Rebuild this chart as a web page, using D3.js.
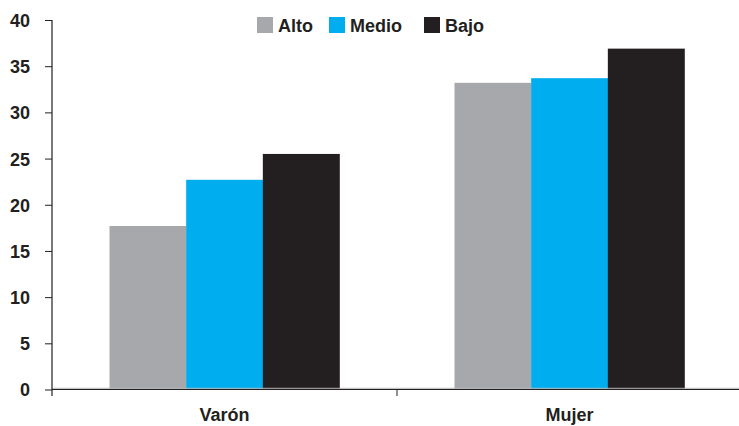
<!DOCTYPE html>
<html><head><meta charset="utf-8">
<script src="https://cdn.jsdelivr.net/npm/d3@7/dist/d3.min.js"></script>
<style>body{margin:0;background:#fff}svg{display:block}</style>
</head><body>
<svg id="c" width="739" height="426"></svg>
<script>
const categories = ["Varón", "Mujer"];
const seriesNames = ["Alto", "Medio", "Bajo"];
const alto = [17.7, 33.2];
const medio = [22.7, 33.7];
const bajo = [25.5, 36.9];
const yTicks = [0, 5, 10, 15, 20, 25, 30, 35, 40];
const colors = ["#a7a8ab", "#00aeef", "#231f20"];

const seriesValues = [alto, medio, bajo];
const svg = d3.select("#c");
const font = "'Liberation Sans', Arial, Helvetica, sans-serif";

const x0 = d3.scaleBand().domain(categories).range([52, 742]).padding(0);
const x1 = d3.scaleBand().domain(seriesNames).range([0, x0.bandwidth()]).paddingInner(0).paddingOuter(0.75);
const y = d3.scaleLinear().domain([0, 40]).range([389.5, 20]);

// bars
categories.forEach((c, ci) => {
  seriesNames.forEach((s, si) => {
    svg.append("rect")
      .attr("x", x0(c) + x1(s))
      .attr("y", y(seriesValues[si][ci]))
      .attr("width", x1.bandwidth() + 0.3)
      .attr("height", y(0) - y(seriesValues[si][ci]))
      .attr("fill", colors[si]);
  });
});

// baseline gray line
svg.append("line").attr("x1", 52).attr("x2", 739)
  .attr("y1", y(0) - 1.2).attr("y2", y(0) - 1.2)
  .attr("stroke", "#b5b6b8").attr("stroke-width", 1);

// y axis
const yAxis = svg.append("g").attr("transform", "translate(52,0)")
  .call(d3.axisLeft(y).tickValues(yTicks).tickSize(7).tickPadding(15).tickFormat(d3.format("d")));
yAxis.select(".domain").remove();
yAxis.selectAll(".tick line").attr("stroke", "#231f20").attr("stroke-width", 1);
yAxis.selectAll(".tick text").attr("font-family", font).attr("font-weight", "bold")
  .attr("font-size", 18).attr("fill", "#231f20").attr("dy", "0.36em");
svg.append("line").attr("x1", 52).attr("x2", 52).attr("y1", y(40)).attr("y2", 396)
  .attr("stroke", "#231f20").attr("stroke-width", 1.2);

// x axis
svg.append("line").attr("x1", 52).attr("x2", 739).attr("y1", y(0)).attr("y2", y(0))
  .attr("stroke", "#231f20").attr("stroke-width", 1.2);
const xAxis = svg.append("g").attr("transform", `translate(0,${y(0)})`)
  .call(d3.axisBottom(x0).tickSize(0).tickPadding(19));
xAxis.select(".domain").remove();
xAxis.selectAll(".tick text").attr("font-family", font).attr("font-weight", "bold")
  .attr("font-size", 18).attr("fill", "#231f20");
// boundary tick between groups
svg.append("line").attr("x1", x0(categories[1])).attr("x2", x0(categories[1]))
  .attr("y1", y(0)).attr("y2", 396).attr("stroke", "#231f20").attr("stroke-width", 1);

// legend
const legX = [257, 329, 424];
seriesNames.forEach((s, i) => {
  svg.append("rect").attr("x", legX[i]).attr("y", 17).attr("width", 16).attr("height", 16).attr("fill", colors[i]);
  svg.append("text").attr("x", legX[i] + 21).attr("y", 32)
    .attr("font-family", font).attr("font-weight", "bold").attr("font-size", 18)
    .attr("fill", "#231f20").text(s);
});
</script>
</body></html>
